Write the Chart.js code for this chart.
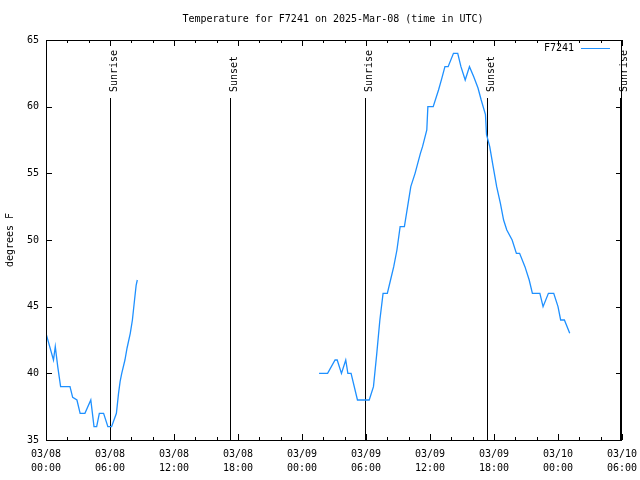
<!DOCTYPE html>
<html><head><meta charset="utf-8">
<script src="https://cdn.jsdelivr.net/npm/chart.js@4/dist/chart.umd.min.js"></script>
<style>html,body{margin:0;padding:0;background:#fff}canvas{display:block}</style>
</head><body>
<div style="width:640px;height:480px"><canvas id="c" width="640" height="480"></canvas></div>
<script>
// hours since 2025-03-08 00:00 UTC
const hours = [0,0.7,0.87,1.1,1.37,2.25,2.5,2.9,3.2,3.65,4.2,4.5,4.75,5.0,5.4,5.8,6.15,6.6,6.8,6.95,7.1,7.4,7.6,7.9,8.1,8.3,8.45,8.56,
  17,
  25.6,26.4,27.1,27.3,27.7,28.1,28.3,28.6,29.2,30.3,30.7,31.0,31.3,31.6,32.0,32.3,32.6,32.9,33.2,33.6,33.9,34.2,34.6,35.1,35.3,35.7,35.8,36.3,36.8,37.1,37.4,37.7,38.2,38.6,38.9,39.3,39.7,40.1,40.5,40.8,41.2,41.3,41.6,41.9,42.25,42.6,42.9,43.2,43.7,44.1,44.4,44.9,45.3,45.6,46.3,46.6,47.1,47.6,48.0,48.25,48.6,49.1];
const temps = [43,41,42,40.5,39,39,38.2,38,37,37,38,36,36,37,37,36,36,37,38.5,39.4,40,41,41.9,43,44,45.5,46.6,47,
  null,
  40,40,41,41,40,41,40,40,38,38,39,41.4,44,46,46,47,48,49.25,51,51,52.5,54,55,56.5,57,58.25,60,60,61.25,62.1,63,63,64,64,63,62,63,62.25,61.4,60.5,59.4,57.9,57,55.6,54,52.75,51.5,50.75,50,49,49,48,47,46,46,45,46,46,45,44,44,43];
const sunTimes = [5.97, 17.25, 29.88, 41.3, 53.8];
const sunLabels = ['Sunrise','Sunset','Sunrise','Sunset','Sunrise'];
const xTickDays = ['03/08','03/08','03/08','03/08','03/09','03/09','03/09','03/09','03/10','03/10'];
const xTickTimes = ['00:00','06:00','12:00','18:00','00:00','06:00','12:00','18:00','00:00','06:00'];
const yTickValues = [35,40,45,50,55,60,65];
const seriesName = 'F7241';
const titleText = 'Temperature for F7241 on 2025-Mar-08 (time in UTC)';
const yTitle = 'degrees F';

const FONT = '10px "DejaVu Sans Mono"';
const LINE_COLOR = '#1e90ff';

const gp = {
  id: 'gp',
  beforeDatasetsDraw(chart) {
    const {ctx, scales: {x, y}} = chart;
    ctx.save();
    ctx.strokeStyle = '#000'; ctx.lineWidth = 1;
    ctx.font = FONT; ctx.fillStyle = '#000';
    sunTimes.forEach((t, i) => {
      const px = Math.round(x.getPixelForValue(t)) + 0.5;
      ctx.beginPath(); ctx.moveTo(px, 98); ctx.lineTo(px, y.bottom); ctx.stroke();
      ctx.save();
      ctx.translate(px + 6, 92); ctx.rotate(-Math.PI / 2);
      ctx.textAlign = 'left'; ctx.textBaseline = 'alphabetic';
      ctx.fillText(sunLabels[i], 0, 0);
      ctx.restore();
    });
    ctx.restore();
  },
  afterDraw(chart) {
    const {ctx, chartArea: a, scales: {x, y}} = chart;
    ctx.save();
    ctx.strokeStyle = '#000'; ctx.lineWidth = 1;
    ctx.strokeRect(a.left + 0.5, a.top + 0.5, a.right - a.left - 1, a.bottom - a.top);
    ctx.beginPath();
    for (let v = 0; v <= 54; v += 2) {
      const px = Math.round(x.getPixelForValue(v)) + 0.5;
      const L = (v % 6 === 0) ? 6 : 3;
      ctx.moveTo(px, a.bottom); ctx.lineTo(px, a.bottom - L);
      ctx.moveTo(px, a.top); ctx.lineTo(px, a.top + L);
    }
    yTickValues.forEach(v => {
      const py = Math.round(y.getPixelForValue(v)) + 0.5;
      ctx.moveTo(a.left, py); ctx.lineTo(a.left + 6, py);
      ctx.moveTo(a.right, py); ctx.lineTo(a.right - 6, py);
    });
    ctx.stroke();
    ctx.font = FONT; ctx.fillStyle = '#000';
    ctx.textAlign = 'center'; ctx.textBaseline = 'middle';
    ctx.fillText(titleText, 333, 19);
    ctx.save();
    ctx.translate(10, 240); ctx.rotate(-Math.PI / 2);
    ctx.fillText(yTitle, 0, 0);
    ctx.restore();
    ctx.textAlign = 'right';
    ctx.fillText(seriesName, 574, 48);
    ctx.strokeStyle = LINE_COLOR;
    ctx.beginPath(); ctx.moveTo(581, 48.5); ctx.lineTo(610, 48.5); ctx.stroke();
    ctx.restore();
  }
};

new Chart(document.getElementById('c'), {
  type: 'line',
  data: {
    datasets: [{
      label: seriesName,
      data: hours.map((h, i) => ({x: h, y: temps[i]})),
      borderColor: LINE_COLOR,
      borderWidth: 1.3,
      pointRadius: 0,
      tension: 0,
      spanGaps: false,
      fill: false
    }]
  },
  options: {
    responsive: false,
    animation: false,
    devicePixelRatio: 1,
    layout: {padding: {top: 40, right: 18, bottom: 0, left: 0}},
    plugins: {legend: {display: false}, title: {display: false}, tooltip: {enabled: false}},
    scales: {
      x: {
        type: 'linear', min: 0, max: 54,
        grid: {display: false, drawTicks: false},
        border: {display: false},
        ticks: {
          stepSize: 6, autoSkip: false, maxRotation: 0, padding: 7,
          color: '#000', font: {family: 'DejaVu Sans Mono', size: 10, lineHeight: 1.4},
          callback: (v) => [xTickDays[v / 6], xTickTimes[v / 6]]
        },
        afterFit: (s) => { s.height = 40; s.paddingLeft = 0; s.paddingRight = 0; }
      },
      y: {
        min: 35, max: 65,
        grid: {display: false, drawTicks: false},
        border: {display: false},
        ticks: {
          stepSize: 5, padding: 7, color: '#000',
          font: {family: 'DejaVu Sans Mono', size: 10}
        },
        afterFit: (s) => { s.width = 46; s.paddingTop = 0; s.paddingBottom = 0; }
      }
    }
  },
  plugins: [gp]
});
</script>
</body></html>
